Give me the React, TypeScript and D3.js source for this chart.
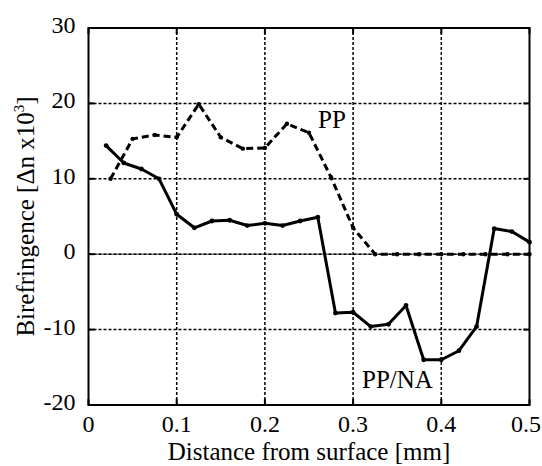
import * as d3 from "d3";

// PP sampled every 0.025 mm, PP/NA every 0.02 mm
const ppX = [0.025, 0.05, 0.075, 0.1, 0.125, 0.15, 0.175, 0.2, 0.225, 0.25, 0.275, 0.3, 0.325, 0.35, 0.375, 0.4, 0.425, 0.45, 0.475, 0.5];
const ppY = [10.0, 15.3, 15.8, 15.5, 19.9, 15.5, 14.0, 14.1, 17.3, 16.1, 10.2, 3.5, 0, 0, 0, 0, 0, 0, 0, 0];

const naX = [0.02, 0.04, 0.06, 0.08, 0.1, 0.12, 0.14, 0.16, 0.18, 0.2, 0.22, 0.24, 0.26, 0.28, 0.3, 0.32, 0.34, 0.36, 0.38, 0.4, 0.42, 0.44, 0.46, 0.48, 0.5];
const naY = [14.4, 12.1, 11.3, 10.0, 5.3, 3.5, 4.4, 4.5, 3.8, 4.1, 3.8, 4.4, 4.9, -7.8, -7.7, -9.6, -9.3, -6.8, -14.0, -14.0, -12.8, -9.6, 3.4, 3.0, 1.6];

const xTicks = [0, 0.1, 0.2, 0.3, 0.4, 0.5];
const yTicks = [-20, -10, 0, 10, 20, 30];

const W = 542;
const H = 466;
const margin = { top: 28, right: 12.5, bottom: 61, left: 88.5 };
const serif = { fontFamily: '"Liberation Serif", "DejaVu Serif", "Times New Roman", serif' };

export default function App() {
  const x = d3.scaleLinear().domain([0, 0.5]).range([margin.left, W - margin.right]);
  const y = d3.scaleLinear().domain([-20, 30]).range([H - margin.bottom, margin.top]);
  const [x0, x1] = x.range();
  const [y0, y1] = y.range(); // y0 bottom, y1 top

  const line = d3.line<[number, number]>().x((d) => x(d[0])).y((d) => y(d[1]));
  const pp: [number, number][] = ppX.map((v, i) => [v, ppY[i]]);
  const na: [number, number][] = naX.map((v, i) => [v, naY[i]]);

  return (
    <svg width={W} height={H} style={{ position: "absolute", left: 0, top: 0, background: "#fff" }}>
      {/* zero line */}
      <line x1={x0} x2={x1} y1={y(0)} y2={y(0)} stroke="#888" strokeWidth={1.5} />
      {/* grid */}
      {xTicks.slice(1, -1).map((t) => (
        <line key={"gx" + t} x1={x(t)} x2={x(t)} y1={y0} y2={y1} stroke="#000" strokeWidth={1.5} strokeDasharray="3,2" />
      ))}
      {yTicks.slice(1, -1).map((t) => (
        <line key={"gy" + t} x1={x0} x2={x1} y1={y(t)} y2={y(t)} stroke="#000" strokeWidth={1.5} strokeDasharray="3,2" />
      ))}
      {/* inward ticks */}
      {xTicks.map((t) => (
        <g key={"tx" + t}>
          <line x1={x(t)} x2={x(t)} y1={y0} y2={y0 - 6} stroke="#000" strokeWidth={2} />
          <line x1={x(t)} x2={x(t)} y1={y1} y2={y1 + 6} stroke="#000" strokeWidth={2} />
        </g>
      ))}
      {yTicks.map((t) => (
        <g key={"ty" + t}>
          <line x1={x0} x2={x0 + 6} y1={y(t)} y2={y(t)} stroke="#000" strokeWidth={2} />
          <line x1={x1} x2={x1 - 6} y1={y(t)} y2={y(t)} stroke="#000" strokeWidth={2} />
        </g>
      ))}

      {/* PP dashed */}
      <path d={line(pp) ?? ""} fill="none" stroke="#000" strokeWidth={3} strokeDasharray="7,4" />
      {pp.map((d, i) => (
        <circle key={"pp" + i} cx={x(d[0])} cy={y(d[1])} r={2.2} fill="#000" />
      ))}
      {/* PP/NA solid */}
      <path d={line(na) ?? ""} fill="none" stroke="#000" strokeWidth={3} strokeLinejoin="round" />
      {na.map((d, i) => (
        <circle key={"na" + i} cx={x(d[0])} cy={y(d[1])} r={2.4} fill="#000" />
      ))}

      {/* frame */}
      <rect x={x0} y={y1} width={x1 - x0} height={y0 - y1} fill="none" stroke="#000" strokeWidth={2} />

      {/* tick labels */}
      {xTicks.map((t) => (
        <text key={"lx" + t} x={Math.min(x(t), W - 16)} y={y0 + 27} textAnchor="middle" fontSize={24} style={serif}>
          {t === 0 ? "0" : d3.format(".1f")(t)}
        </text>
      ))}
      {yTicks.map((t) => (
        <text key={"ly" + t} x={x0 - 13} y={y(t) + 5} textAnchor="end" fontSize={24} style={serif}>
          {t}
        </text>
      ))}

      {/* series labels */}
      <text x={318} y={128} fontSize={25} style={serif}>PP</text>
      <text x={362} y={388} fontSize={25} style={serif}>PP/NA</text>

      {/* axis titles */}
      <text x={(x0 + x1) / 2} y={H - 6} textAnchor="middle" fontSize={25} style={serif}>
        Distance from surface [mm]
      </text>
      <text transform={`translate(34,${(y0 + y1) / 2}) rotate(-90)`} textAnchor="middle" fontSize={25} style={serif}>
        Birefringence [Δn x10<tspan dy={-10} fontSize={15}>3</tspan><tspan dy={10}>]</tspan>
      </text>
    </svg>
  );
}
